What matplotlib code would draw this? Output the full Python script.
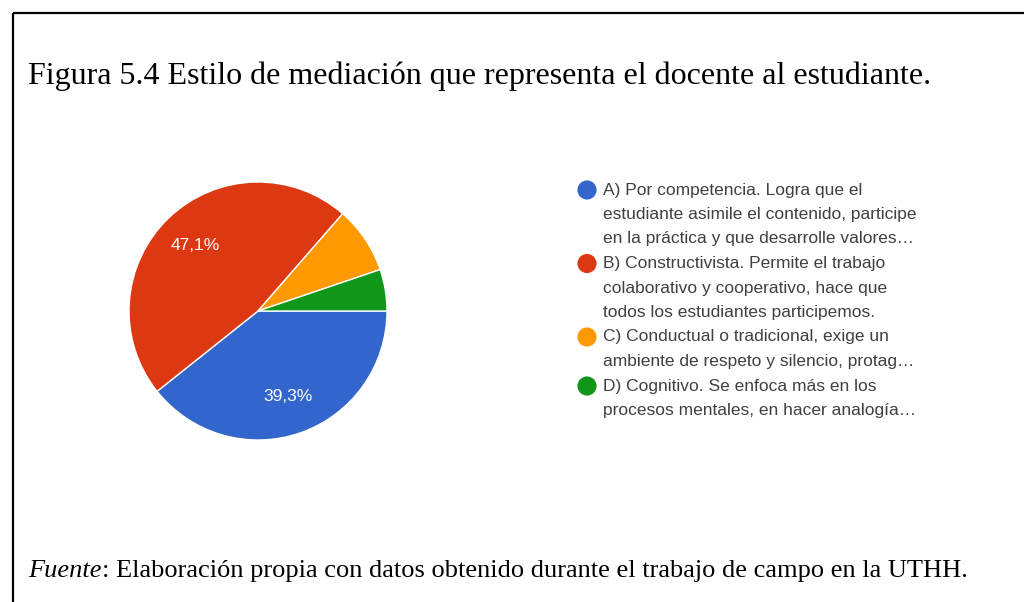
import matplotlib
matplotlib.use("Agg")
import matplotlib.pyplot as plt

# Data
labels = [
    "A) Por competencia. Logra que el\nestudiante asimile el contenido, participe\nen la práctica y que desarrolle valores…",
    "B) Constructivista. Permite el trabajo\ncolaborativo y cooperativo, hace que\ntodos los estudiantes participemos.",
    "C) Conductual o tradicional, exige un\nambiente de respeto y silencio, protag…",
    "D) Cognitivo. Se enfoca más en los\nprocesos mentales, en hacer analogía…",
]
values = [39.3, 47.1, 8.4, 5.2]
colors = ["#3366cc", "#dc3912", "#ff9900", "#109618"]

title = "Figura 5.4 Estilo de mediación que representa el docente al estudiante."
source_it = "Fuente"
source_rest = ": Elaboración propia con datos obtenido durante el trabajo de campo en la UTHH."

W, H = 1024, 602
fig = plt.figure(figsize=(W / 100, H / 100), dpi=100)
fig.patch.set_facecolor("white")

# overlay axes in pixel coordinates for frame and text
ov = fig.add_axes([0, 0, 1, 1])
ov.set_xlim(0, W)
ov.set_ylim(H, 0)
ov.axis("off")

# frame (only top and left edges visible)
ov.plot([13, W + 5], [13, 13], color="black", lw=1.6, solid_capstyle="butt")
ov.plot([13, 13], [13, H + 5], color="black", lw=1.6, solid_capstyle="butt")

ov.text(28, 84, title, fontsize=23, family="Liberation Serif", va="baseline", ha="left")
t = ov.text(28, 577, source_it, fontsize=19, family="Liberation Serif",
            style="italic", va="baseline", ha="left")
fig.canvas.draw()
bb = t.get_window_extent()
ov.text(bb.x1, H - 577, source_rest, fontsize=19, family="Liberation Serif",
        va="baseline", ha="left", transform=None)

# pie
cx, cy, r = 258, 311, 129
pax = fig.add_axes([(cx - r) / W, (H - cy - r) / H, 2 * r / W, 2 * r / H])


def fmt(p):
    return f"{p:.1f}%".replace(".", ",") if p > 10 else ""


wedges, texts, autotexts = pax.pie(
    values, colors=colors, startangle=0, counterclock=False,
    autopct=fmt, pctdistance=0.7,
    wedgeprops=dict(edgecolor="white", linewidth=1),
    textprops=dict(color="white", fontsize=12.5, family="Liberation Sans"),
)
pax.set_xlim(-1, 1)
pax.set_ylim(-1, 1)
pax.set_aspect("equal")

# legend drawn manually
line_h = 24.5
y = 190
for lab, col in zip(labels, colors):
    ov.scatter([587], [y], s=190, color=col, edgecolors="none")
    for ln in lab.split("\n"):
        ov.text(603, y, ln, fontsize=12.5, family="Liberation Sans",
                color="#404040", va="center", ha="left")
        y += line_h

fig.savefig("out.png", dpi=100)
